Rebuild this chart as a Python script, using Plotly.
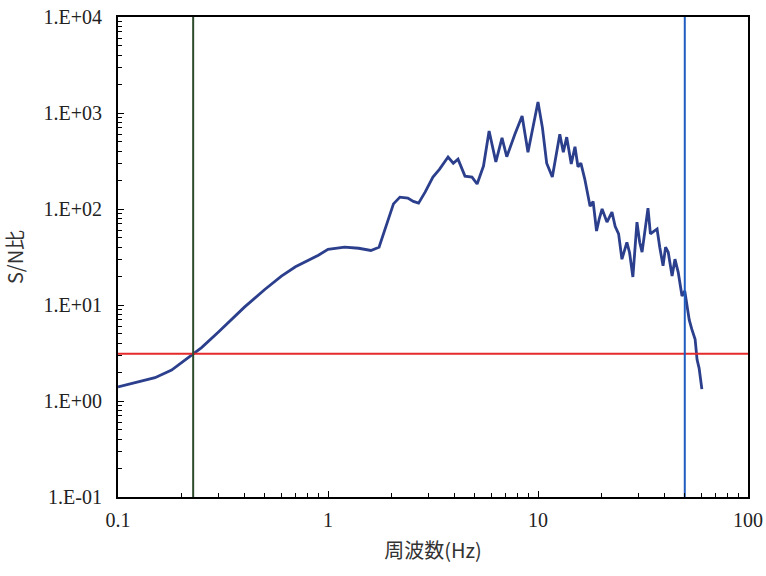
import plotly.graph_objects as go

freq = [0.1, 0.12, 0.15, 0.18, 0.2, 0.23, 0.25, 0.3, 0.35, 0.4, 0.5, 0.6, 0.7, 0.8, 0.9, 1.0,
        1.2, 1.4, 1.6, 1.75, 1.9, 2.05, 2.2, 2.4, 2.55, 2.7, 2.9, 3.16, 3.4, 3.73, 3.95, 4.16,
        4.49, 4.85, 5.13, 5.5, 5.85, 6.3, 6.74, 7.1, 7.76, 8.4, 8.96, 9.46, 10.0, 10.5, 11.0,
        11.7, 12.2, 12.7, 13.2, 13.7, 14.4, 15.0, 15.5, 16.0, 16.7, 17.7, 18.3, 19.0, 19.6,
        20.2, 21.3, 22.5, 23.3, 24.2, 25.1, 26.5, 27.3, 28.3, 29.6, 30.5, 31.3, 32.3, 33.4,
        34.3, 35.3, 36.9, 38.0, 39.4, 40.5, 41.7, 43.5, 44.9, 46.5, 48.5, 50.0, 51.3, 52.5,
        54.0, 55.0, 56.0, 57.2, 58.5, 60.3]
sn_ratio = [1.4, 1.55, 1.75, 2.1, 2.5, 3.1, 3.6, 5.2, 7.2, 9.5, 14.5, 20, 25, 29, 33, 38,
            40, 39, 37, 40, 70, 113, 133, 130, 120, 115, 150, 215, 260, 348, 300, 331,
            220, 215, 182, 280, 650, 310, 550, 350, 600, 930, 390, 730, 1300, 700, 300,
            215, 350, 600, 390, 560, 295, 445, 275, 300, 205, 107, 120, 59, 80,
            100, 73, 93, 66, 55, 30, 45, 35, 19.6, 73, 45, 35.5, 60, 102,
            55, 58, 62, 40, 25.6, 40, 35.5, 20, 30, 22, 12.4, 14, 9.8, 7,
            5.6, 5, 4.4, 2.7, 2.2, 1.33]

low_cut = 0.228
high_cut = 50.0
threshold = 3.1

x_tickvals = [0.1, 1, 10, 100]
x_ticktext = ["0.1", "1", "10", "100"]
y_tickvals = [0.1, 1, 10, 100, 1000, 10000]
y_ticktext = ["1.E-01", "1.E+00", "1.E+01", "1.E+02", "1.E+03", "1.E+04"]
x_minor = [m * d for d in [0.1, 1, 10] for m in range(2, 10)]
y_minor = [m * d for d in [0.1, 1, 10, 100, 1000] for m in range(2, 10)]

fig = go.Figure()
fig.add_trace(go.Scatter(x=freq, y=sn_ratio, mode="lines",
                         line=dict(color="#2b3f8c", width=2.8), showlegend=False))
fig.add_trace(go.Scatter(x=[0.1, 100], y=[threshold, threshold], mode="lines",
                         line=dict(color="#e42a2a", width=2), showlegend=False))
fig.add_trace(go.Scatter(x=[low_cut, low_cut], y=[0.1, 10000], mode="lines",
                         line=dict(color="#2d4a2a", width=2), showlegend=False))
fig.add_trace(go.Scatter(x=[high_cut, high_cut], y=[0.1, 10000], mode="lines",
                         line=dict(color="#1f5cc0", width=2), showlegend=False))

tick_font = dict(family="Liberation Serif, Times New Roman, serif", size=20, color="#222")
title_font = dict(family="Noto Sans CJK JP", size=20, color="#333")

axis_common = dict(showline=True, linecolor="black", linewidth=2, mirror=True,
                   showgrid=False, zeroline=False, ticks="inside", ticklen=6,
                   tickcolor="black", automargin=False, tickfont=tick_font,
                   ticklabeloverflow="allow")

fig.update_xaxes(type="log", range=[-1, 2], tickmode="array", tickvals=x_tickvals,
                 ticktext=x_ticktext, ticklabelstandoff=4,
                 minor=dict(tickmode="array", tickvals=x_minor, ticks="inside", ticklen=4,
                            tickcolor="black", showgrid=False),
                 title=dict(text="周波数(Hz)", font=title_font, standoff=14),
                 **axis_common)
fig.update_yaxes(type="log", range=[-1, 4], tickmode="array", tickvals=y_tickvals,
                 ticktext=y_ticktext, ticklabelstandoff=10,
                 minor=dict(tickmode="array", tickvals=y_minor, ticks="inside", ticklen=4,
                            tickcolor="black", showgrid=False),
                 title=dict(text="S/N比", font=title_font, standoff=16),
                 **axis_common)

fig.update_layout(width=766, height=576, margin=dict(l=118, r=18, t=17, b=79),
                  plot_bgcolor="white", paper_bgcolor="white")

fig.write_html("out.html", config={"displayModeBar": False},
               post_script="document.body.style.margin='0';document.body.style.padding='0';"
                           "document.body.style.overflow='hidden';")
